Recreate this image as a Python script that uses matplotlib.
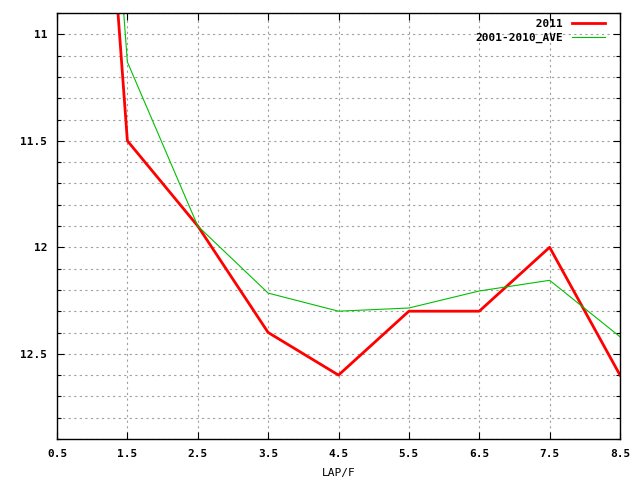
import numpy as np
import matplotlib
matplotlib.use('Agg')
from matplotlib import pyplot as plt
from matplotlib.ticker import MultipleLocator

# data
lap = [0.5, 1.5, 2.5, 3.5, 4.5, 5.5, 6.5, 7.5, 8.5]
y2011 = [7.0, 11.5, 11.9, 12.4, 12.6, 12.3, 12.3, 12.0, 12.6]
ave = [6.7, 11.13, 11.9, 12.215, 12.30, 12.285, 12.205, 12.155, 12.42]
x_ticks = [0.5, 1.5, 2.5, 3.5, 4.5, 5.5, 6.5, 7.5, 8.5]
x_labels = ['0.5', '1.5', '2.5', '3.5', '4.5', '5.5', '6.5', '7.5', '8.5']
y_ticks = [11, 11.5, 12, 12.5]
y_labels = ['11', '11.5', '12', '12.5']

plt.rcParams['font.family'] = 'DejaVu Sans Mono'
plt.rcParams['font.weight'] = 'bold'
plt.rcParams['font.size'] = 8

fig = plt.figure(figsize=(6.4, 4.8), dpi=100)
ax = fig.add_axes([57 / 640, 1 - 439 / 480, (620 - 57) / 640, (439 - 13) / 480])

ax.plot(lap, y2011, color='#ff0000', lw=2.0, label='         2011')
ax.plot(lap, ave, color='#00c000', lw=0.8, label='2001-2010_AVE')

ax.set_xlim(0.5, 8.5)
ax.set_ylim(12.9, 10.9)
ax.set_xticks(x_ticks)
ax.set_xticklabels(x_labels)
ax.set_yticks(y_ticks)
ax.set_yticklabels(y_labels)
ax.yaxis.set_minor_locator(MultipleLocator(0.1))

ax.tick_params(which='both', direction='in', top=True, right=True, width=0.8)
ax.tick_params(which='major', length=5)
ax.tick_params(which='minor', length=3)
ax.tick_params(axis='y', pad=7)
ax.tick_params(axis='x', pad=7)

ax.grid(True, which='major', color='#a0a0a0', lw=0.8, linestyle=(0, (2, 3)))
ax.grid(True, which='minor', axis='y', color='#a0a0a0', lw=0.8, linestyle=(0, (2, 3)))
for s in ax.spines.values():
    s.set_linewidth(1.0)

ax.set_xlabel('LAP/F', labelpad=7)

ax.legend(loc='upper right', bbox_to_anchor=(1 - 9 / 563, 1), frameon=False,
          markerfirst=False, handlelength=3.0, borderaxespad=0.1,
          labelspacing=0.35, handletextpad=0.8,
          prop={'family': 'DejaVu Sans Mono', 'weight': 'bold', 'size': 8})

fig.savefig('out.png', dpi=100)
